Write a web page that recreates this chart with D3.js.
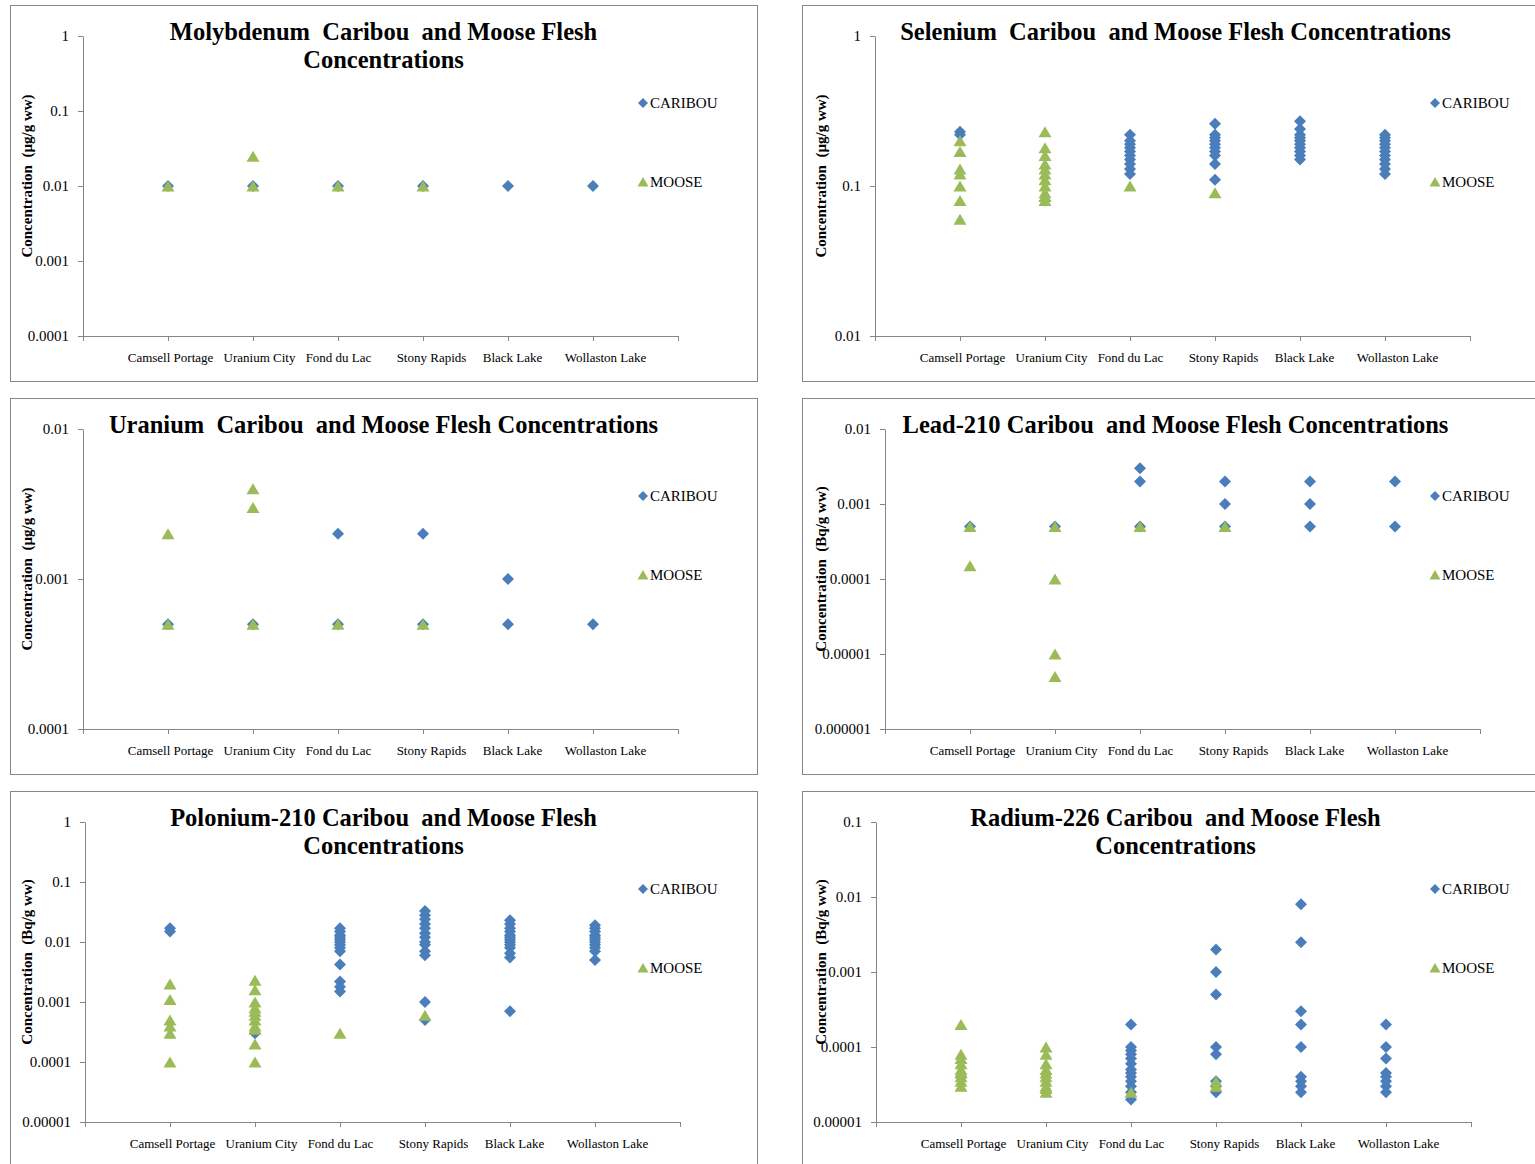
<!DOCTYPE html>
<html>
<head>
<meta charset="utf-8">
<script src="https://cdn.jsdelivr.net/npm/d3@7"></script>
<style>
  body { margin: 0; background: #fff; }
  svg { display: block; }
  text { font-family: "Liberation Serif", "Times New Roman", serif; }
</style>
</head>
<body>
<svg id="chart" width="1535" height="1164"></svg>
<script>
// ---------------- DATA ----------------
const categories = ["Camsell Portage", "Uranium City", "Fond du Lac", "Stony Rapids", "Black Lake", "Wollaston Lake"];
const seriesNames = ["CARIBOU", "MOOSE"];

// Molybdenum (µg/g ww)
const moTitle = ["Molybdenum  Caribou  and Moose Flesh", "Concentrations"];
const moTicks = ["1", "0.1", "0.01", "0.001", "0.0001"];
const moCaribou = [[0.01], [0.01], [0.01], [0.01], [0.01], [0.01]];
const moMoose = [[0.01], [0.025, 0.01], [0.01], [0.01], [], []];

// Selenium (µg/g ww)
const seTitle = ["Selenium  Caribou  and Moose Flesh Concentrations"];
const seTicks = ["1", "0.1", "0.01"];
const seCaribou = [
  [0.23, 0.22],
  [0.08],
  [0.22, 0.2, 0.19, 0.18, 0.17, 0.16, 0.15, 0.14, 0.13, 0.12],
  [0.26, 0.22, 0.21, 0.2, 0.19, 0.18, 0.17, 0.16, 0.14, 0.11],
  [0.27, 0.24, 0.22, 0.21, 0.2, 0.19, 0.18, 0.17, 0.16, 0.15],
  [0.22, 0.21, 0.2, 0.19, 0.18, 0.17, 0.16, 0.15, 0.14, 0.13, 0.12]
];
const seMoose = [
  [0.2, 0.17, 0.13, 0.12, 0.1, 0.08, 0.06],
  [0.23, 0.18, 0.16, 0.14, 0.13, 0.12, 0.11, 0.1, 0.09, 0.085, 0.08],
  [0.1],
  [0.09],
  [],
  []
];

// Uranium (µg/g ww)
const uTitle = ["Uranium  Caribou  and Moose Flesh Concentrations"];
const uTicks = ["0.01", "0.001", "0.0001"];
const uCaribou = [[0.0005], [0.0005], [0.002, 0.0005], [0.002, 0.0005], [0.001, 0.0005], [0.0005]];
const uMoose = [[0.002, 0.0005], [0.004, 0.003, 0.0005], [0.0005], [0.0005], [], []];

// Lead-210 (Bq/g ww)
const pbTitle = ["Lead-210 Caribou  and Moose Flesh Concentrations"];
const pbTicks = ["0.01", "0.001", "0.0001", "0.00001", "0.000001"];
const pbCaribou = [[0.0005], [0.0005], [0.003, 0.002, 0.0005], [0.002, 0.001, 0.0005], [0.002, 0.001, 0.0005], [0.002, 0.0005]];
const pbMoose = [[0.0005, 0.00015], [0.0005, 0.0001, 0.00001, 0.000005], [0.0005], [0.0005], [], []];

// Polonium-210 (Bq/g ww)
const poTitle = ["Polonium-210 Caribou  and Moose Flesh", "Concentrations"];
const poTicks = ["1", "0.1", "0.01", "0.001", "0.0001", "0.00001"];
const poCaribou = [
  [0.017, 0.015],
  [0.0003],
  [0.017, 0.015, 0.013, 0.012, 0.011, 0.01, 0.009, 0.008, 0.007, 0.0042, 0.0022, 0.0018, 0.0015],
  [0.033, 0.028, 0.024, 0.02, 0.017, 0.014, 0.012, 0.01, 0.009, 0.007, 0.006, 0.001, 0.0005],
  [0.023, 0.02, 0.017, 0.015, 0.013, 0.012, 0.011, 0.01, 0.009, 0.008, 0.0065, 0.0055, 0.0007],
  [0.019, 0.017, 0.015, 0.013, 0.012, 0.011, 0.01, 0.009, 0.008, 0.007, 0.005]
];
const poMoose = [
  [0.002, 0.0011, 0.0005, 0.0004, 0.0003, 0.0001],
  [0.0023, 0.0016, 0.001, 0.0008, 0.0007, 0.0006, 0.0005, 0.0004, 0.00035, 0.0002, 0.0001],
  [0.0003],
  [0.0006],
  [],
  []
];

// Radium-226 (Bq/g ww)
const raTitle = ["Radium-226 Caribou  and Moose Flesh", "Concentrations"];
const raTicks = ["0.1", "0.01", "0.001", "0.0001", "0.00001"];
const raCaribou = [
  [0.00004],
  [],
  [0.0002, 0.0001, 0.00009, 0.00008, 0.00007, 0.00006, 0.00005, 0.000045, 0.00004, 0.000035, 0.00003, 0.000025, 0.00002],
  [0.002, 0.001, 0.0005, 0.0001, 0.00008, 0.000035, 0.00003, 0.000025],
  [0.008, 0.0025, 0.0003, 0.0002, 0.0001, 0.00004, 0.000035, 0.00003, 0.000025],
  [0.0002, 0.0001, 0.00007, 0.000045, 0.00004, 0.000035, 0.00003, 0.000025]
];
const raMoose = [
  [0.0002, 0.00008, 0.00007, 0.00006, 0.00005, 0.000045, 0.00004, 0.000035, 0.00003],
  [0.0001, 0.00008, 0.00006, 0.00005, 0.000045, 0.00004, 0.000035, 0.00003, 0.000028, 0.000025],
  [0.000025],
  [0.000035, 0.00003],
  [],
  []
];

const unitMass = "Concentration  (µg/g ww)";
const unitBq = "Concentration  (Bq/g ww)";

// ---------------- LAYOUT ----------------
const panels = [
  { px: 10,  py: 5,   ax: 73, title: moTitle, ticks: moTicks, caribou: moCaribou, moose: moMoose, ylab: unitMass, ylx: 22 },
  { px: 802, py: 5,   ax: 73, title: seTitle, ticks: seTicks, caribou: seCaribou, moose: seMoose, ylab: unitMass, ylx: 24 },
  { px: 10,  py: 398, ax: 73, title: uTitle,  ticks: uTicks,  caribou: uCaribou,  moose: uMoose,  ylab: unitMass, ylx: 22 },
  { px: 802, py: 398, ax: 83, title: pbTitle, ticks: pbTicks, caribou: pbCaribou, moose: pbMoose, ylab: unitBq,   ylx: 24 },
  { px: 10,  py: 791, ax: 75, title: poTitle, ticks: poTicks, caribou: poCaribou, moose: poMoose, ylab: unitBq,   ylx: 22 },
  { px: 802, py: 791, ax: 74, title: raTitle, ticks: raTicks, caribou: raCaribou, moose: raMoose, ylab: unitBq,   ylx: 24 }
];
const labelDx = [2, 6, 0, 8, 4, 12];

const PW = 747, PH = 376;
const plotTop = 31, plotH = 300, plotW = 595;
const COL_CARIBOU = "#4A7EBB", COL_MOOSE = "#9BBB59";
const AXIS_COL = "#868686";
const diamond = "M0,-6L6,0L0,6L-6,0Z";
const triangle = "M0,-5.5L6.5,5.5L-6.5,5.5Z";
const diamondS = "M0,-5L5,0L0,5L-5,0Z";
const triangleS = "M0,-5L5.5,4.5L-5.5,4.5Z";

const svg = d3.select("#chart");

panels.forEach(p => {
  const g = svg.append("g").attr("transform", `translate(${p.px},${p.py})`);

  g.append("rect")
    .attr("x", 0.5).attr("y", 0.5)
    .attr("width", PW).attr("height", PH)
    .attr("fill", "#fff").attr("stroke", AXIS_COL).attr("stroke-width", 1);

  // title
  const t = g.append("text")
    .attr("text-anchor", "middle")
    .attr("font-weight", "bold")
    .attr("font-size", 24.5)
    .attr("fill", "#000")
    .style("white-space", "pre");
  p.title.forEach((line, i) => {
    t.append("tspan").attr("x", PW / 2).attr("y", 35 + i * 28).text(line);
  });

  const plot = g.append("g").attr("transform", `translate(${p.ax},${plotTop})`);

  const tickVals = p.ticks.map(Number);
  const y = d3.scaleLog()
    .domain([d3.min(tickVals), d3.max(tickVals)])
    .range([plotH, 0]);
  const x = d3.scaleLinear().domain([0, 7]).range([0, plotW]);

  // y axis
  const yAxis = d3.axisLeft(y)
    .tickValues(tickVals)
    .tickFormat((d, i) => p.ticks[i])
    .tickSize(5).tickSizeOuter(0).tickPadding(9);
  const yg = plot.append("g").call(yAxis);
  yg.select(".domain").attr("stroke", AXIS_COL);
  yg.selectAll(".tick line").attr("stroke", AXIS_COL);
  yg.selectAll(".tick text")
    .attr("font-family", "Liberation Serif, serif")
    .attr("font-size", 15).attr("fill", "#000");

  // x axis
  const xAxis = d3.axisBottom(x)
    .tickValues(d3.range(0, 8))
    .tickFormat(i => categories[i - 1] || "")
    .tickSize(5).tickSizeOuter(0).tickPadding(12);
  const xg = plot.append("g").attr("transform", `translate(0,${plotH})`).call(xAxis);
  xg.select(".domain").attr("stroke", AXIS_COL);
  xg.selectAll(".tick line").attr("stroke", AXIS_COL);
  xg.selectAll(".tick text")
    .attr("font-family", "Liberation Serif, serif")
    .attr("font-size", 13).attr("fill", "#000")
    .attr("dx", d => (labelDx[d - 1] || 0));

  // y-axis title
  g.append("text")
    .attr("transform", `translate(${p.ylx},${plotTop + 140}) rotate(-90)`)
    .attr("text-anchor", "middle")
    .attr("font-weight", "bold")
    .attr("font-size", 15)
    .attr("fill", "#000")
    .style("white-space", "pre")
    .text(p.ylab);

  // points
  const flat = (arr) => arr.flatMap((vals, ci) => vals.map(v => ({ ci, v })));
  plot.append("g").selectAll("path")
    .data(flat(p.caribou)).join("path")
    .attr("d", diamond)
    .attr("transform", d => `translate(${x(d.ci + 1)},${y(d.v)})`)
    .attr("fill", COL_CARIBOU);
  plot.append("g").selectAll("path")
    .data(flat(p.moose)).join("path")
    .attr("d", triangle)
    .attr("transform", d => `translate(${x(d.ci + 1)},${y(d.v)})`)
    .attr("fill", COL_MOOSE);

  // legend
  const leg = g.append("g").attr("transform", "translate(633,0)");
  [[diamondS, COL_CARIBOU, 98], [triangleS, COL_MOOSE, 177]].forEach((m, i) => {
    leg.append("path").attr("d", m[0]).attr("fill", m[1])
      .attr("transform", `translate(0,${m[2]})`);
    leg.append("text").attr("x", 7).attr("y", m[2]).attr("dy", "0.35em")
      .attr("font-size", 15).attr("fill", "#000").text(seriesNames[i]);
  });
});
</script>
</body>
</html>
